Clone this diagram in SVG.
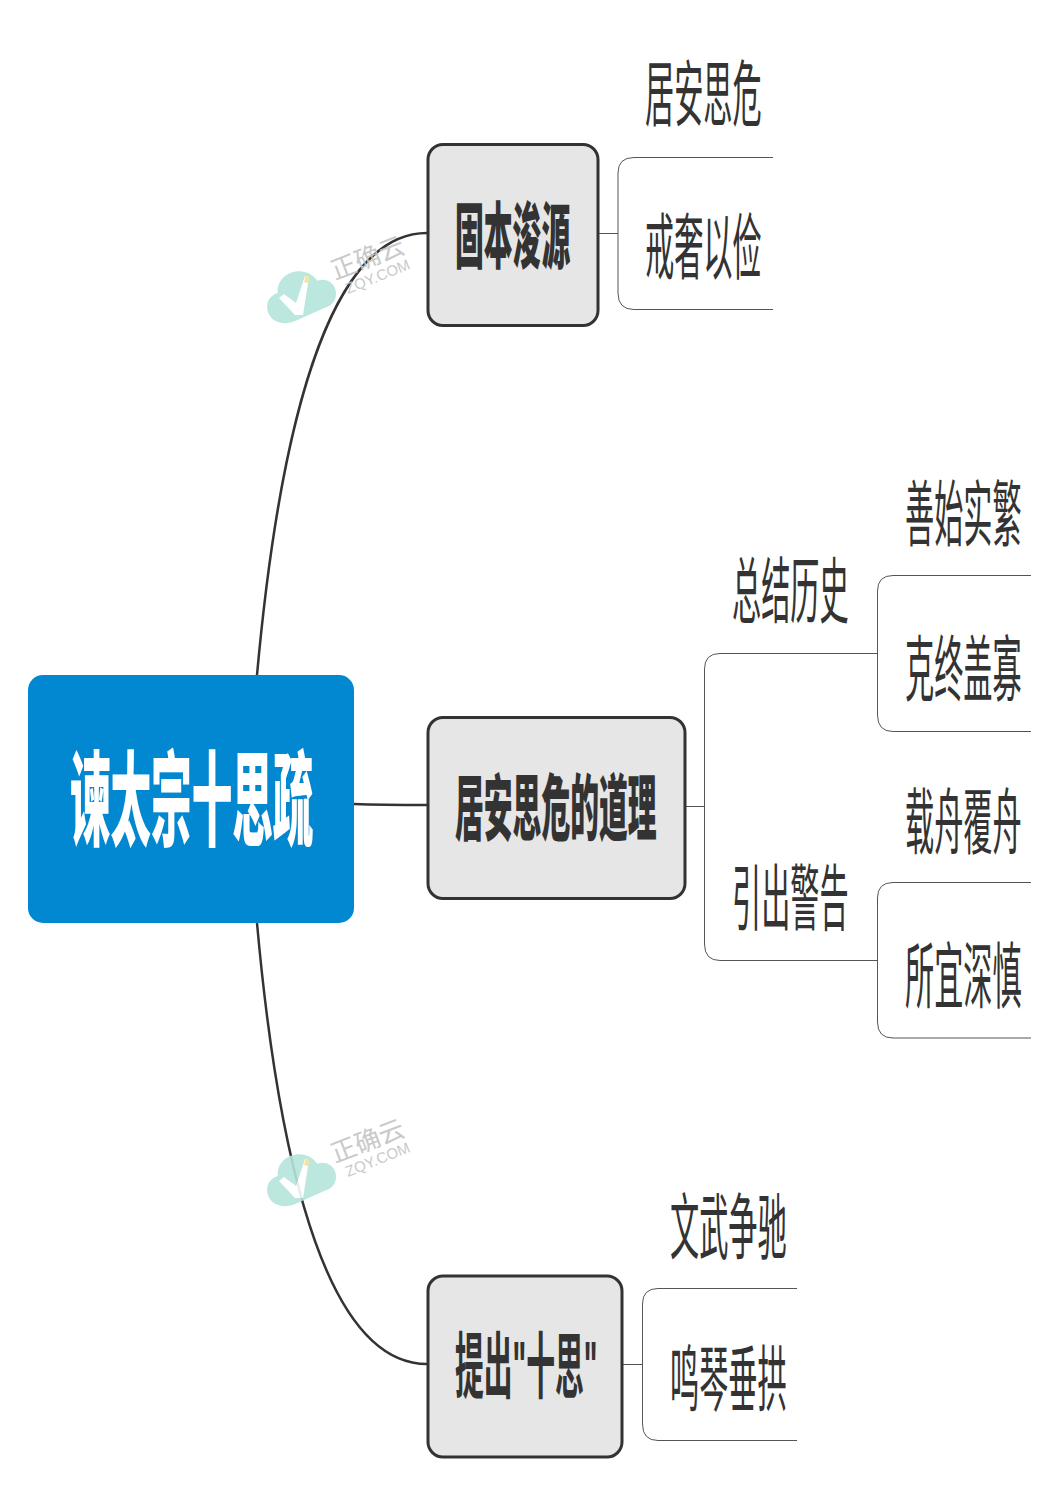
<svg xmlns="http://www.w3.org/2000/svg" width="1058" height="1497" viewBox="0 0 1058 1497">
<style>
text{font-family:"Noto Sans CJK SC","Liberation Sans",sans-serif;fill:#333}
.t{font-size:72px;font-weight:400}
.b{font-size:72px;font-weight:900}
.q{font-family:"Liberation Sans","Noto Sans CJK SC",sans-serif;font-weight:700}
.main{stroke:#333;stroke-width:2.500;fill:none}
.sub{stroke:#555;stroke-width:1;fill:none}
.box{fill:#e6e6e6;stroke:#333;stroke-width:3}
.cloud{fill:#b5e5dc}
</style>
<defs>
<g id="mark">
<path class="cloud" d="M272 322C261 319 255 309 258 299C260 291 267 287 274 287C276 275 287 268 299 269C310 270 318 277 321 286C331 285 339 293 338 303C337 313 329 318 320 318L285 323Q278 324 272 322Z" transform="translate(300 294) rotate(-16) scale(0.88) translate(-298 -295)"/>
<path fill="#fff" d="M279 298L284 294L296 303L305 276L309 277L303 315L295 315Z"/>
<path fill="#f7e08a" d="M304 282L306 275L309 277L308 283Z"/>
<text transform="translate(335 280) rotate(-21)" style="font-size:25.500px;fill:#c4c4c4">正确云</text>
<text transform="translate(348 294) rotate(-22)" style="font-size:15px;font-family:'Liberation Sans',sans-serif;fill:#c4c4c4">ZQY.COM</text>
</g>
</defs>
<rect width="1058" height="1497" fill="#fff"/>
<g id="connectors">
<path class="main" d="M257 675C272 510 310 233 427 233"/>
<path class="main" d="M354 804C380 805 400 805 427 805"/>
<path class="main" d="M257 923C272 1090 310 1364 427 1364"/>
<path class="sub" d="M599 233.500H618M773 157.500H634Q618 157.500 618 173V293Q618 309.500 634 309.500H773"/>
<path class="sub" d="M686 806.500H704.500M877 653.500H720Q704.500 653.500 704.500 669V944Q704.500 960.500 720 960.500H877"/>
<path class="sub" d="M1031 575.500H893Q877.500 575.500 877.500 591V715Q877.500 731.500 893 731.500H1031"/>
<path class="sub" d="M1031 882.500H893Q877.500 882.500 877.500 898V1022Q877.500 1038 893 1038H1031"/>
<path class="sub" d="M623 1364.500H642.500M797 1288.500H658Q642.500 1288.500 642.500 1304V1424Q642.500 1440.500 658 1440.500H797"/>
</g>
<g id="root"><rect x="28" y="675" width="326" height="248" rx="15" fill="#0288d1"/>
<text transform="translate(70 838) scale(0.39 1)" style="font-size:104px;font-weight:900;fill:#fff">谏太宗十思疏</text></g>
<g id="n1"><rect class="box" x="428" y="144.500" width="170" height="181" rx="15"/>
<text class="b" transform="translate(455 262) scale(0.4 1)">固本浚源</text></g>
<g id="n2"><rect class="box" x="428" y="717.500" width="257" height="181" rx="15"/>
<text class="b" transform="translate(455 834) scale(0.4 1)">居安思危的道理</text></g>
<g id="n3"><rect class="box" x="428" y="1276" width="194" height="181" rx="15"/>
<text class="b q" transform="translate(455 1392) scale(0.4 1)">提出"十思"</text></g>
<g id="l1"><text class="t" transform="translate(645 120) scale(0.405 1)">居安思危</text></g>
<g id="l2"><text class="t" transform="translate(645 273) scale(0.405 1)">戒奢以俭</text></g>
<g id="l3"><text class="t" transform="translate(732 617) scale(0.405 1)">总结历史</text></g>
<g id="l4"><text class="t" transform="translate(732 924) scale(0.405 1)">引出警告</text></g>
<g id="l5"><text class="t" transform="translate(905 540) scale(0.405 1)">善始实繁</text></g>
<g id="l6"><text class="t" transform="translate(905 695) scale(0.405 1)">克终盖寡</text></g>
<g id="l7"><text class="t" transform="translate(905 848) scale(0.405 1)">载舟覆舟</text></g>
<g id="l8"><text class="t" transform="translate(905 1002) scale(0.405 1)">所宜深慎</text></g>
<g id="l9"><text class="t" transform="translate(670 1253) scale(0.405 1)">文武争驰</text></g>
<g id="l10"><text class="t" transform="translate(670 1405) scale(0.405 1)">鸣琴垂拱</text></g>
<g id="wm1" opacity="0.9"><use href="#mark"/></g>
<g id="wm2" opacity="0.9"><use href="#mark" y="883"/></g>
</svg>
